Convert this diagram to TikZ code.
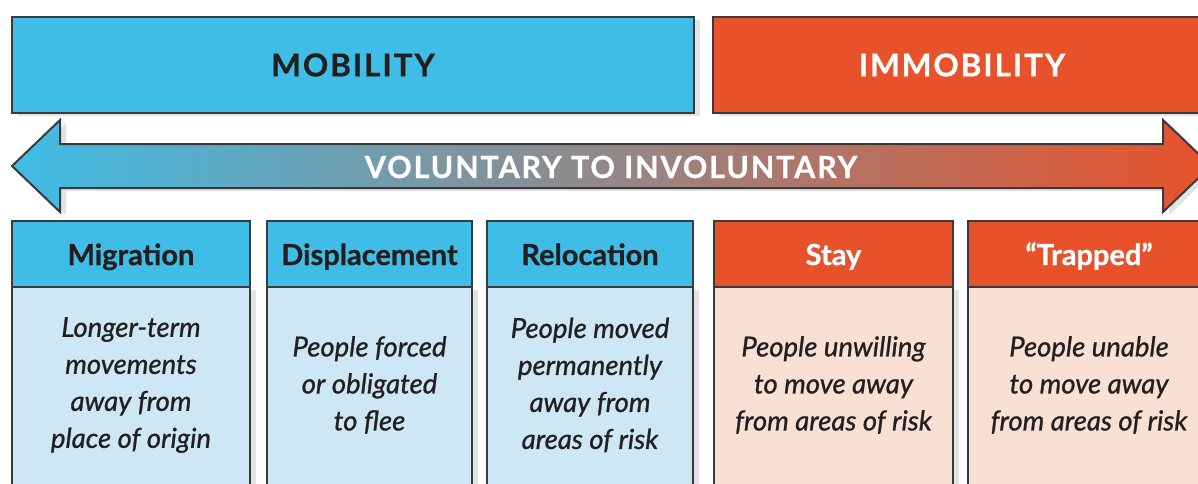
\documentclass[tikz,border=0pt]{standalone}
\usepackage{fontspec}
\setmainfont{Lato}
\newfontface\spacedbold[LetterSpace=6,FakeBold=0.6]{Lato Bold}
\newfontface\headface[FakeBold=0.8]{Lato Bold}
\newfontface\bodyface[FakeBold=0.9]{Lato Italic}
\usetikzlibrary{shadows}
\definecolor{mobblue}{HTML}{3FBDE6}
\definecolor{mobpale}{HTML}{CDE8F4}
\definecolor{immred}{HTML}{E8522A}
\definecolor{immpale}{HTML}{F9E0D5}
\definecolor{edgegray}{HTML}{3A3A3C}
\definecolor{inkblack}{HTML}{231F20}
\definecolor{midgray}{HTML}{9A9C9A}
\tikzset{
  softshadow/.style={drop shadow={opacity=0.22,shadow xshift=6pt,shadow yshift=-3pt}},
  bandbox/.style={draw=edgegray,line width=2pt,softshadow,inner sep=0pt,
    minimum height=96pt,font=\spacedbold\fontsize{31.5}{36}\selectfont},
  headbox/.style={draw=edgegray,line width=2pt,inner sep=0pt,minimum height=66pt,
    text height=24pt,text depth=2pt,font=\headface\fontsize{29}{33}\selectfont},
  bodybox/.style={draw=edgegray,line width=2pt,inner sep=0pt,minimum height=223pt,softshadow},
  bodytext/.style={align=center,text=inkblack,font=\bodyface\fontsize{27.5}{37}\selectfont}
}
\begin{document}
\begin{tikzpicture}[x=1pt,y=-1pt]
\useasboundingbox (0,0) rectangle (1198,483);
\clip (0,0) rectangle (1198,483);
% top bands
\node[bandbox,fill=mobblue,minimum width=682pt,text=inkblack] (mobility) at (353,65) {MOBILITY};
\node[bandbox,fill=immred,minimum width=498pt,text=white] (immobility) at (962,65) {IMMOBILITY};
% double arrow
\draw[edgegray,line width=2pt,line join=miter,softshadow,
  left color=mobblue,middle color=midgray!85!immred,right color=immred]
  (12,166) -- (60,120) -- (60,144) -- (1163,144) -- (1163,120) -- (1211,166)
  -- (1163,212) -- (1163,188) -- (60,188) -- (60,212) -- cycle;
\node[text=white,font=\spacedbold\fontsize{30.5}{34}\selectfont] (scale) at (611,167) {VOLUNTARY TO INVOLUNTARY};
% columns
\node[bodybox,fill=mobpale,minimum width=238pt] (migbody) at (131,398) {};
\node[bodybox,fill=mobpale,minimum width=205pt] (disbody) at (369.5,398) {};
\node[bodybox,fill=mobpale,minimum width=206pt] (relbody) at (590,398) {};
\node[bodybox,fill=immpale,minimum width=239pt] (staybody) at (833.5,398) {};
\node[bodybox,fill=immpale,minimum width=242pt] (trapbody) at (1089,398) {};
\node[headbox,fill=mobblue,minimum width=238pt,text=inkblack] (mighead) at (131,254) {Migration};
\node[headbox,fill=mobblue,minimum width=205pt,text=inkblack] (dishead) at (369.5,254) {Displacement};
\node[headbox,fill=mobblue,minimum width=206pt,text=inkblack] (relhead) at (590,254) {Relocation};
\node[headbox,fill=immred,minimum width=239pt,text=white] (stayhead) at (833.5,254) {Stay};
\node[headbox,fill=immred,minimum width=242pt,text=white] (traphead) at (1089,254) {“Trapped”};
\node[bodytext] (migtext) at (131,385) {Longer-term\\movements\\away from\\place of origin};
\node[bodytext] (distext) at (369.5,385) {People forced\\or obligated\\to flee};
\node[bodytext] (reltext) at (590,385) {People moved\\permanently\\away from\\areas of risk};
\node[bodytext] (staytext) at (833.5,385) {People unwilling\\to move away\\from areas of risk};
\node[bodytext] (traptext) at (1089,385) {People unable\\to move away\\from areas of risk};
\end{tikzpicture}
\end{document}
